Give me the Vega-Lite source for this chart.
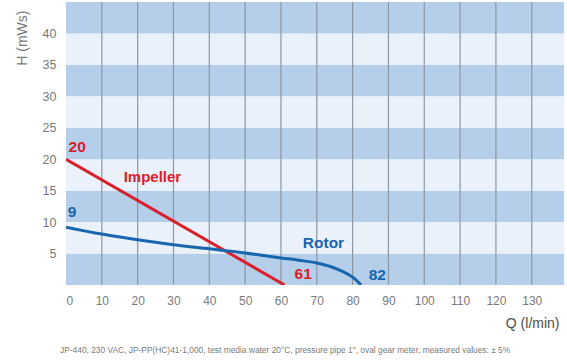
{
  "$schema": "https://vega.github.io/schema/vega-lite/v6.json",
  "width": 498,
  "height": 283,
  "autosize": "none",
  "padding": {"left": 66, "top": 2, "right": 3, "bottom": 79},
  "background": "#ffffff",
  "config": {
    "view": {"stroke": null},
    "axisY": {
      "domain": false, "ticks": false, "grid": false,
      "labelPadding": 10,
      "labelFont": "Liberation Sans",
      "labelFontSize": 12.5,
      "labelColor": "#7a7a7a",
      "titleFont": "Liberation Sans",
      "titleFontSize": 14,
      "titleFontWeight": "normal",
      "titleColor": "#7a7a7a",
      "titleAngle": -90,
      "titleX": -44,
      "titleY": 8,
      "titleAlign": "right",
      "titleBaseline": "middle"
    },
    "axisX": {
      "domain": false, "ticks": false, "grid": false,
      "labelPadding": 10,
      "labelFont": "Liberation Sans",
      "labelFontSize": 12,
      "labelColor": "#7a7a7a",
      "titleFont": "Liberation Sans",
      "titleFontSize": 14,
      "titleFontWeight": 500,
      "titleColor": "#4d4d4d",
      "titleX": 493,
      "titleY": 38,
      "titleAlign": "right",
      "titleBaseline": "middle"
    }
  },
  "resolve": {"scale": {"color": "independent"}},
  "title": {
    "text": "JP-440, 230 VAC, JP-PP(HC)41-1,000, test media water 20°C, pressure pipe 1\", oval gear meter, measured values: ± 5%",
    "orient": "bottom",
    "anchor": "start",
    "frame": "group",
    "dx": -6,
    "offset": 16,
    "font": "Liberation Sans",
    "fontSize": 8.4,
    "fontWeight": "normal",
    "color": "#7a7a7a"
  },
  "layer": [
    {
      "data": {"values": [
        {"lo": 0, "hi": 5, "shade": "dark"},
        {"lo": 5, "hi": 10, "shade": "light"},
        {"lo": 10, "hi": 15, "shade": "dark"},
        {"lo": 15, "hi": 20, "shade": "light"},
        {"lo": 20, "hi": 25, "shade": "dark"},
        {"lo": 25, "hi": 30, "shade": "light"},
        {"lo": 30, "hi": 35, "shade": "dark"},
        {"lo": 35, "hi": 40, "shade": "light"},
        {"lo": 40, "hi": 45, "shade": "dark"}
      ]},
      "mark": {"type": "rect"},
      "encoding": {
        "y": {
          "field": "lo", "type": "quantitative",
          "scale": {"domain": [0, 45], "nice": false, "zero": false},
          "axis": {"title": "H (mWs)", "values": [5, 10, 15, 20, 25, 30, 35, 40]}
        },
        "y2": {"field": "hi"},
        "color": {
          "field": "shade", "type": "nominal",
          "scale": {"domain": ["dark", "light"], "range": ["#b5cee9", "#eaf1fa"]},
          "legend": null
        }
      }
    },
    {
      "data": {"values": [
        {"q": 10}, {"q": 20}, {"q": 30}, {"q": 40}, {"q": 50}, {"q": 60}, {"q": 70},
        {"q": 80}, {"q": 90}, {"q": 100}, {"q": 110}, {"q": 120}, {"q": 130}
      ]},
      "mark": {"type": "rule", "color": "#8c98a6", "strokeWidth": 1.2},
      "encoding": {
        "x": {
          "field": "q", "type": "quantitative",
          "scale": {"domain": [0, 139], "nice": false, "zero": false},
          "axis": {"title": "Q (l/min)", "values": [0, 10, 20, 30, 40, 50, 60, 70, 80, 90, 100, 110, 120, 130]}
        }
      }
    },
    {
      "data": {"values": [
        {"series": "Impeller", "q": 0, "h": 20},
        {"series": "Impeller", "q": 61, "h": 0},
        {"series": "Rotor", "q": 0, "h": 9.2},
        {"series": "Rotor", "q": 10, "h": 8.1},
        {"series": "Rotor", "q": 20, "h": 7.2},
        {"series": "Rotor", "q": 30, "h": 6.4},
        {"series": "Rotor", "q": 40, "h": 5.75},
        {"series": "Rotor", "q": 50, "h": 5.1},
        {"series": "Rotor", "q": 60, "h": 4.3},
        {"series": "Rotor", "q": 65, "h": 3.95},
        {"series": "Rotor", "q": 70, "h": 3.5},
        {"series": "Rotor", "q": 74, "h": 2.9},
        {"series": "Rotor", "q": 77, "h": 2.2},
        {"series": "Rotor", "q": 80, "h": 1.25},
        {"series": "Rotor", "q": 82.4, "h": 0}
      ]},
      "mark": {"type": "line", "strokeWidth": 3, "interpolate": "monotone", "clip": true},
      "encoding": {
        "x": {"field": "q", "type": "quantitative", "scale": {"domain": [0, 139], "nice": false, "zero": false},
              "axis": {"title": "Q (l/min)", "values": [0, 10, 20, 30, 40, 50, 60, 70, 80, 90, 100, 110, 120, 130]}},
        "y": {"field": "h", "type": "quantitative", "scale": {"domain": [0, 45], "nice": false, "zero": false},
              "axis": {"title": "H (mWs)", "values": [5, 10, 15, 20, 25, 30, 35, 40]}},
        "color": {
          "field": "series", "type": "nominal",
          "scale": {"domain": ["Impeller", "Rotor"], "range": ["#d9202a", "#1766ae"]},
          "legend": null
        },
        "detail": {"field": "series"}
      }
    },
    {
      "data": {"values": [
        {"series": "Impeller", "label": "20", "q": 0.7, "h": 22.0, "size": 15.5},
        {"series": "Impeller", "label": "Impeller", "q": 16.1, "h": 17.1, "size": 15},
        {"series": "Impeller", "label": "61", "q": 63.8, "h": 1.7, "size": 15.5},
        {"series": "Rotor", "label": "9", "q": 0.5, "h": 11.6, "size": 15.5},
        {"series": "Rotor", "label": "Rotor", "q": 66.1, "h": 6.75, "size": 15.5},
        {"series": "Rotor", "label": "82", "q": 84.5, "h": 1.65, "size": 15.5}
      ]},
      "mark": {"type": "text", "align": "left", "baseline": "middle", "font": "Liberation Sans", "fontWeight": "bold"},
      "encoding": {
        "x": {"field": "q", "type": "quantitative", "scale": {"domain": [0, 139], "nice": false, "zero": false},
              "axis": {"title": "Q (l/min)", "values": [0, 10, 20, 30, 40, 50, 60, 70, 80, 90, 100, 110, 120, 130]}},
        "y": {"field": "h", "type": "quantitative", "scale": {"domain": [0, 45], "nice": false, "zero": false},
              "axis": {"title": "H (mWs)", "values": [5, 10, 15, 20, 25, 30, 35, 40]}},
        "text": {"field": "label"},
        "size": {"field": "size", "type": "quantitative", "scale": null, "legend": null},
        "color": {
          "field": "series", "type": "nominal",
          "scale": {"domain": ["Impeller", "Rotor"], "range": ["#d9202a", "#1766ae"]},
          "legend": null
        }
      }
    }
  ]
}
